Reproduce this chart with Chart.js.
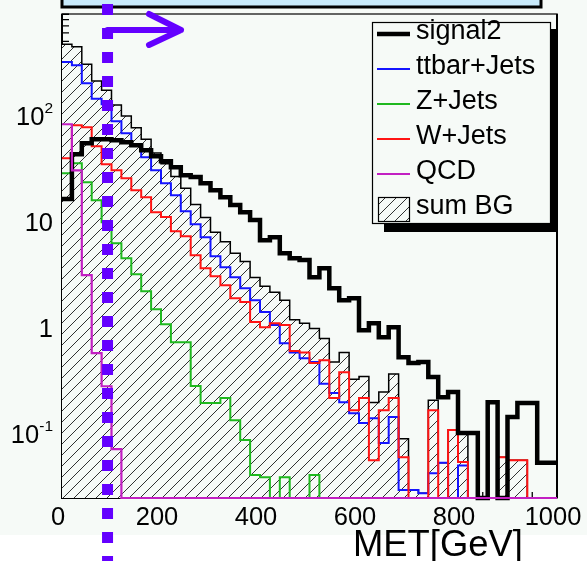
<!DOCTYPE html>
<html>
<head>
<meta charset="utf-8">
<script src="https://cdn.jsdelivr.net/npm/chart.js@4.4.0/dist/chart.umd.min.js"></script>
<style>
  html, body { margin: 0; padding: 0; background: #ffffff; }
  canvas { display: block; }
</style>
</head>
<body>
<canvas id="met" width="587" height="561"></canvas>
<script>
// MET distribution, 20 GeV bins from 0 to 1000 GeV (events per bin, log scale)
const BIN_WIDTH = 20;
const metLowEdges = Array.from({ length: 50 }, (_, i) => i * BIN_WIDTH);

const signal2 = [16.4, 43.4, 55.0, 60.0, 60.0, 58.7, 56.2, 52.7, 47.3, 41.5,
                 37.2, 32.7, 27.5, 26.4, 23.1, 19.9, 17.1, 14.4, 12.3, 10.4,
                 6.73, 7.18, 5.08, 4.56, 4.37, 3.02, 3.67, 2.38, 1.83, 1.91,
                 0.957, 1.11, 0.822, 1.02, 0.533, 0.469, 0.479, 0.346, 0.224, 0.250,
                 0.103, 0.103, 0, 0.201, 0, 0.146, 0.197, 0.197, 0.054, 0.054];

const ttbarJets = [320, 298, 202, 144, 128, 88.5, 68.2, 53.8, 40.6, 30.6,
                   23.1, 17.8, 12.6, 9.5, 7.18, 4.75, 3.75, 3.02, 2.38, 1.83,
                   1.42, 1.07, 0.72, 0.59, 0.52, 0.48, 0.30, 0.245, 0.201, 0.158,
                   0.128, 0.142, 0.083, 0.146, 0.030, 0.030, 0.028, 0.043, 0.054, 0,
                   0.051, 0, 0, 0, 0, 0, 0, 0, 0, 0];

const zJets = [28.7, 35.6, 23.6, 16.0, 9.93, 6.31, 4.56, 3.22, 2.23, 1.51,
               1.09, 0.738, 0.738, 0.285, 0.197, 0.197, 0.22, 0.136, 0.0885, 0.0414,
               0.0396, 0, 0.0396, 0, 0, 0.0414, 0, 0, 0, 0,
               0, 0, 0, 0, 0, 0, 0, 0, 0, 0,
               0, 0, 0, 0, 0, 0, 0, 0, 0, 0];

const wJets = [39.7, 81.3, 77.8, 51.5, 34.9, 30.6, 25.8, 19.9, 17.1, 12.3,
               11.1, 8.18, 7.33, 4.86, 3.67, 3.08, 2.54, 1.91, 1.76, 1.14,
               1.02, 1.11, 1.07, 0.61, 0.59, 0.47, 0.50, 0.22, 0.385, 0.169,
               0.22, 0.057, 0.169, 0.22, 0.061, 0, 0, 0.169, 0, 0.11,
               0.055, 0, 0, 0, 0.061, 0.057, 0.057, 0, 0, 0];

const qcd = [83.0, 30.6, 3.16, 0.582, 0.284, 0.0726, 0, 0, 0, 0,
             0, 0, 0, 0, 0, 0, 0, 0, 0, 0,
             0, 0, 0, 0, 0, 0, 0, 0, 0, 0,
             0, 0, 0, 0, 0, 0, 0, 0, 0, 0,
             0, 0, 0, 0, 0, 0, 0, 0, 0, 0];

const sumBG = [471, 445, 305, 212, 173, 126, 99, 77, 60, 44.5,
               35.3, 26.7, 20.7, 14.6, 11.0, 8.0, 6.5, 5.07, 4.23, 3.0,
               2.48, 2.18, 1.83, 1.2, 1.11, 0.99, 0.8, 0.48, 0.59, 0.33,
               0.35, 0.2, 0.25, 0.37, 0.091, 0.03, 0.028, 0.21, 0.054, 0.11,
               0.106, 0, 0, 0, 0.061, 0.057, 0.057, 0, 0, 0];

const xTickValues = [0, 200, 400, 600, 800, 1000];
const yDecades = [0.1, 1, 10, 100];
const yDecadeText = [['10', '-1'], ['1', ''], ['10', ''], ['10', '2']];
const legendLabels = ['signal2', 'ttbar+Jets', 'Z+Jets', 'W+Jets', 'QCD', 'sum BG'];
const xTitle = 'MET[GeV]';

const Y_MIN = 0.0252;
const Y_MAX = 905;
const MET_CUT = 92;

const BG = '#f6faf7';
const FONT = "'Liberation Sans', Arial, Helvetica, sans-serif";
const CUT_COLOR = '#6400ff';

const canvas = document.getElementById('met');
const ctx = canvas.getContext('2d');

// Empty bins sit on the lower edge of the log axis, as in a ROOT "HIST" draw
function histPoints(values) {
  const pts = values.map((v, i) => ({ x: metLowEdges[i], y: v > 0 ? v : Y_MIN }));
  const last = pts[pts.length - 1];
  pts.push({ x: last.x + BIN_WIDTH, y: last.y });
  return pts;
}

function makeHatch() {
  const s = 11;
  const tile = document.createElement('canvas');
  tile.width = s; tile.height = s;
  const g = tile.getContext('2d');
  g.fillStyle = BG;
  g.fillRect(0, 0, s, s);
  g.strokeStyle = 'rgba(0,0,0,0.8)';
  g.lineWidth = 1;
  g.beginPath();
  g.moveTo(-1, s + 1); g.lineTo(s + 1, -1);
  g.moveTo(-1, 1); g.lineTo(1, -1);
  g.moveTo(s - 1, s + 1); g.lineTo(s + 1, s - 1);
  g.stroke();
  return ctx.createPattern(tile, 'repeat');
}
const hatch = makeHatch();

function histDataset(label, values, color, width, order, extra) {
  return Object.assign({
    label,
    data: histPoints(values),
    borderColor: color,
    borderWidth: width,
    backgroundColor: 'transparent',
    fill: false,
    stepped: true,
    pointRadius: 0,
    tension: 0,
    clip: 6,
    order
  }, extra || {});
}

const datasets = [
  histDataset('signal2', signal2, '#000000', 4.5, 1),
  histDataset('ttbar+Jets', ttbarJets, '#1414ff', 2, 4),
  histDataset('Z+Jets', zJets, '#1fb81f', 2, 3),
  histDataset('W+Jets', wJets, '#ff1414', 2, 2),
  histDataset('QCD', qcd, '#c21fc2', 2.2, 0),
  histDataset('sum BG', sumBG, '#000000', 1.5, 5, { fill: 'start', backgroundColor: hatch })
];

const rootStyle = {
  id: 'rootStyle',
  beforeDraw(chart) {
    const c = chart.ctx;
    c.save();
    c.fillStyle = '#ffffff';
    c.fillRect(0, 0, chart.width, chart.height);
    c.fillStyle = BG;
    c.fillRect(0, 0, chart.width, 535);
    // title box running off the top edge
    c.fillStyle = '#c8eafb';
    c.fillRect(62, -4, 479, 11);
    c.strokeStyle = '#000';
    c.lineWidth = 3;
    c.strokeRect(62, -4, 479, 11);
    c.restore();
  },
  beforeDatasetsDraw(chart) {
    const c = chart.ctx;
    const a = chart.chartArea;
    const xs = chart.scales.x, ys = chart.scales.y;
    c.save();
    c.strokeStyle = '#333';
    c.lineWidth = 1.5;
    c.strokeRect(a.left, a.top, a.right - a.left, a.bottom - a.top);
    c.strokeStyle = '#000';
    c.lineWidth = 2;
    c.beginPath();
    c.moveTo(a.left, a.top); c.lineTo(a.left, a.bottom); c.lineTo(a.right, a.bottom);
    c.moveTo(a.right, a.top); c.lineTo(a.right, a.bottom);
    c.stroke();
    // inward ticks
    c.lineWidth = 1.3;
    c.beginPath();
    for (let v = 0; v <= 1000; v += 50) {
      const px = xs.getPixelForValue(v);
      const len = v % 200 === 0 ? 14 : (v % 100 === 0 ? 9 : 6);
      c.moveTo(px, a.bottom); c.lineTo(px, a.bottom - len);
    }
    for (let d = 0.01; d < 1000; d *= 10) {
      for (let m = 1; m <= 9; m++) {
        const v = m * d;
        if (v < Y_MIN || v > Y_MAX) continue;
        const py = ys.getPixelForValue(v);
        const len = m === 1 ? 13 : 7;
        c.moveTo(a.left, py); c.lineTo(a.left + len, py);
      }
    }
    c.stroke();
    c.restore();
  },
  afterDatasetsDraw(chart) {
    const c = chart.ctx;
    const xs = chart.scales.x, ys = chart.scales.y;
    c.save();

    // axis labels
    c.fillStyle = '#000';
    c.textBaseline = 'alphabetic';
    c.font = '25.5px ' + FONT;
    c.textAlign = 'center';
    xTickValues.forEach(v => {
      c.fillText(String(v), xs.getPixelForValue(v) - 4, 525);
    });
    yDecades.forEach((v, i) => {
      const py = ys.getPixelForValue(v);
      const [base, exp] = yDecadeText[i];
      const right = 53;
      let expW = 0;
      if (exp) {
        c.font = '15.5px ' + FONT;
        expW = c.measureText(exp).width;
        c.textAlign = 'right';
        c.fillText(exp, right, py - 3);
      }
      c.font = '25.5px ' + FONT;
      c.textAlign = 'right';
      c.fillText(base, right - expW, py + 9);
    });

    // x title
    c.font = '36.4px ' + FONT;
    c.textAlign = 'left';
    c.fillText(xTitle, 353, 556);

    // legend
    const lx0 = 372, ly0 = 22, lx1 = 551, ly1 = 224;
    c.fillStyle = '#000';
    c.fillRect(384, 29, 557 - 384, 232 - 29);
    c.fillStyle = BG;
    c.fillRect(lx0, ly0, lx1 - lx0, ly1 - ly0);
    c.strokeStyle = '#000';
    c.lineWidth = 1.2;
    c.strokeRect(lx0 + 0.5, ly0 + 0.5, lx1 - lx0 - 1, ly1 - ly0 - 1);
    c.font = '27px ' + FONT;
    c.textAlign = 'left';
    legendLabels.forEach((lab, i) => {
      const ds = chart.data.datasets.find(d => d.label === lab);
      const yy = 34 + 35 * i;
      if (lab === 'sum BG') {
        c.fillStyle = ds.backgroundColor;
        c.fillRect(378, yy - 12, 32, 25);
        c.strokeStyle = '#000';
        c.lineWidth = 1.2;
        c.strokeRect(378.5, yy - 11.5, 31, 24);
      } else {
        c.strokeStyle = ds.borderColor;
        c.lineWidth = ds.borderWidth;
        c.beginPath();
        c.moveTo(377, yy); c.lineTo(410, yy);
        c.stroke();
      }
      c.fillStyle = '#000';
      c.fillText(lab, 416, yy + 4.5);
    });

    // MET cut marker and arrow
    const cx = xs.getPixelForValue(MET_CUT);
    c.strokeStyle = CUT_COLOR;
    c.lineWidth = 11;
    c.setLineDash([11, 13]);
    c.lineDashOffset = 20;
    c.beginPath();
    c.moveTo(cx, 0); c.lineTo(cx, chart.height);
    c.stroke();
    c.setLineDash([]);
    c.lineWidth = 6;
    c.lineCap = 'round';
    c.lineJoin = 'round';
    const ay = 30, tip = 181;
    c.beginPath();
    c.moveTo(cx, ay); c.lineTo(tip, ay);
    c.moveTo(149, ay - 16); c.lineTo(tip, ay); c.lineTo(149, ay + 15);
    c.stroke();
    c.restore();
  }
};

new Chart(canvas, {
  type: 'line',
  data: { datasets },
  options: {
    responsive: false,
    devicePixelRatio: 1,
    animation: false,
    events: [],
    layout: { padding: { left: 0, right: 30, top: 14, bottom: 0 } },
    plugins: { legend: { display: false }, tooltip: { enabled: false } },
    scales: {
      x: {
        type: 'linear', min: 0, max: 1000,
        ticks: { display: false, stepSize: 200 },
        grid: { display: false }, border: { display: false },
        afterFit(s) { s.height = 63; }
      },
      y: {
        type: 'logarithmic', min: Y_MIN, max: Y_MAX,
        ticks: { display: false },
        grid: { display: false }, border: { display: false },
        afterFit(s) { s.width = 62; }
      }
    }
  },
  plugins: [rootStyle]
});
</script>
</body>
</html>
